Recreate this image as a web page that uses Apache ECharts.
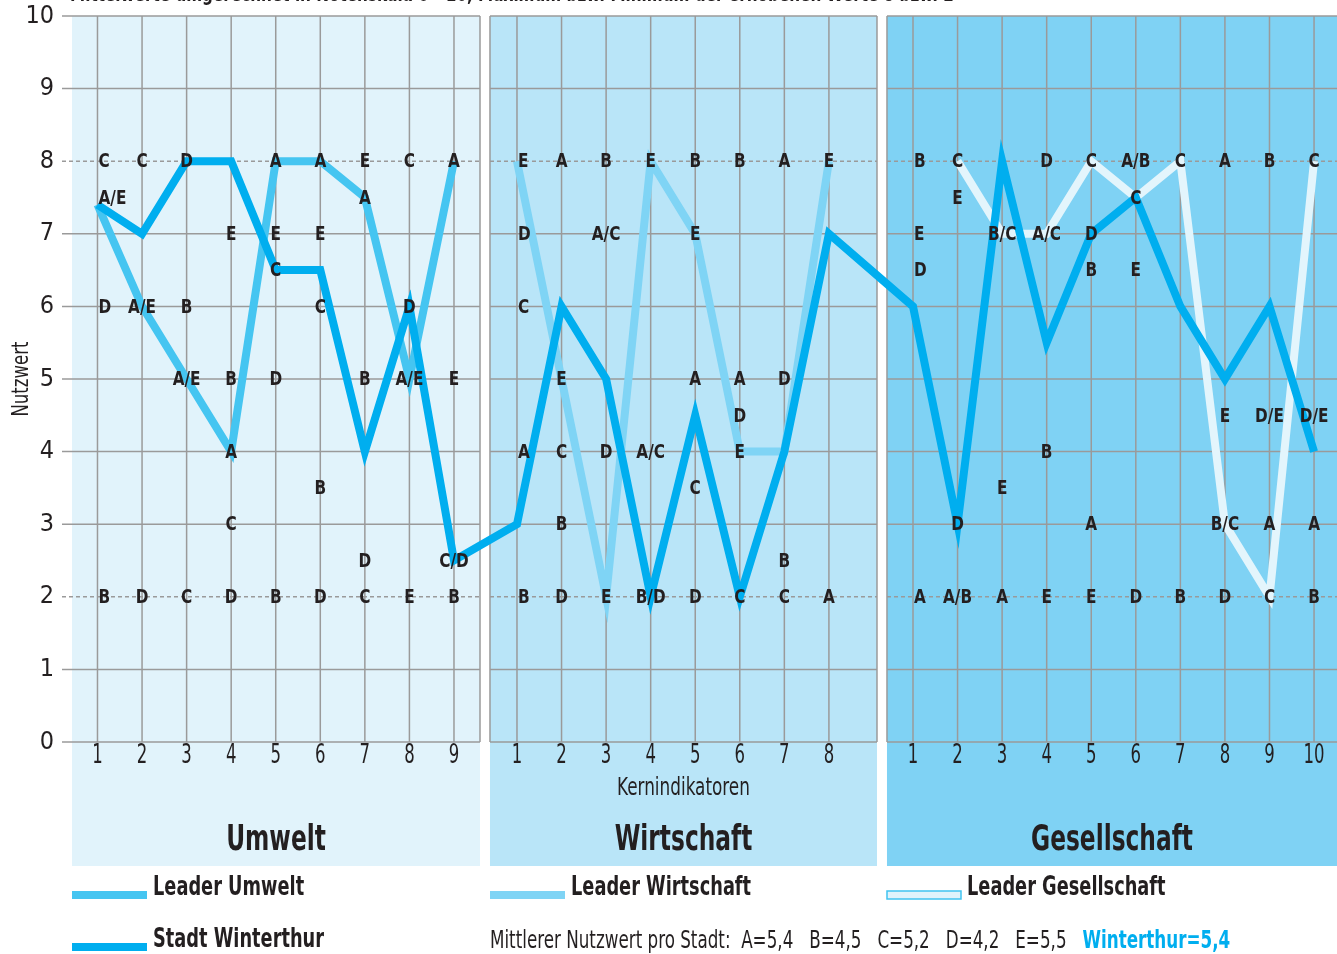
<!DOCTYPE html>
<html>
<head>
<meta charset="utf-8">
<script src="https://cdn.jsdelivr.net/npm/echarts@6/dist/echarts.min.js"></script>
<style>
html,body{margin:0;padding:0;background:#fff;}
#chart{width:1337px;height:954px;}
</style>
</head>
<body>
<div id="chart"></div>
<script>
// ---------------- DATA ----------------
const panelNames = ['Umwelt', 'Wirtschaft', 'Gesellschaft'];
const yTicks = [0, 1, 2, 3, 4, 5, 6, 7, 8, 9, 10];
const umweltIndicators = [1, 2, 3, 4, 5, 6, 7, 8, 9];
const wirtschaftIndicators = [1, 2, 3, 4, 5, 6, 7, 8];
const gesellschaftIndicators = [1, 2, 3, 4, 5, 6, 7, 8, 9, 10];

const umweltLeader = [7.4, 6, 5, 4, 8, 8, 7.5, 5, 8];
const umweltWinterthur = [7.4, 7, 8, 8, 6.5, 6.5, 4, 6, 2.5];
const wirtschaftLeader = [8, 5, 2, 8, 7, 4, 4, 8];
const wirtschaftWinterthur = [3, 6, 5, 2, 4.5, 2, 4, 7];
const gesellschaftLeader = [null, 8, 7, 7, 8, 7.5, 8, 3, 2, 8];
const gesellschaftWinterthur = [6, 3, 8, 5.5, 7, 7.5, 6, 5, 6, 4];

// city letters: [indicator, value, text]
const umweltLetters = [
  [1,8,'C'],[1,7.5,'A/E'],[1,6,'D'],[1,2,'B'],
  [2,8,'C'],[2,6,'A/E'],[2,2,'D'],
  [3,8,'D'],[3,6,'B'],[3,5,'A/E'],[3,2,'C'],
  [4,7,'E'],[4,5,'B'],[4,4,'A'],[4,3,'C'],[4,2,'D'],
  [5,8,'A'],[5,7,'E'],[5,6.5,'C'],[5,5,'D'],[5,2,'B'],
  [6,8,'A'],[6,7,'E'],[6,6,'C'],[6,3.5,'B'],[6,2,'D'],
  [7,8,'E'],[7,7.5,'A'],[7,5,'B'],[7,2.5,'D'],[7,2,'C'],
  [8,8,'C'],[8,6,'D'],[8,5,'A/E'],[8,2,'E'],
  [9,8,'A'],[9,5,'E'],[9,2.5,'C/D'],[9,2,'B']
];
const wirtschaftLetters = [
  [1,8,'E'],[1,7,'D'],[1,6,'C'],[1,4,'A'],[1,2,'B'],
  [2,8,'A'],[2,5,'E'],[2,4,'C'],[2,3,'B'],[2,2,'D'],
  [3,8,'B'],[3,7,'A/C'],[3,4,'D'],[3,2,'E'],
  [4,8,'E'],[4,4,'A/C'],[4,2,'B/D'],
  [5,8,'B'],[5,7,'E'],[5,5,'A'],[5,3.5,'C'],[5,2,'D'],
  [6,8,'B'],[6,5,'A'],[6,4.5,'D'],[6,4,'E'],[6,2,'C'],
  [7,8,'A'],[7,5,'D'],[7,2.5,'B'],[7,2,'C'],
  [8,8,'E'],[8,2,'A']
];
const gesellschaftLetters = [
  [1,8,'B'],[1,7,'E'],[1,6.5,'D'],[1,2,'A'],
  [2,8,'C'],[2,7.5,'E'],[2,3,'D'],[2,2,'A/B'],
  [3,7,'B/C'],[3,3.5,'E'],[3,2,'A'],
  [4,8,'D'],[4,7,'A/C'],[4,4,'B'],[4,2,'E'],
  [5,8,'C'],[5,7,'D'],[5,6.5,'B'],[5,3,'A'],[5,2,'E'],
  [6,8,'A/B'],[6,7.5,'C'],[6,6.5,'E'],[6,2,'D'],
  [7,8,'C'],[7,2,'B'],
  [8,8,'A'],[8,4.5,'E'],[8,3,'B/C'],[8,2,'D'],
  [9,8,'B'],[9,4.5,'D/E'],[9,3,'A'],[9,2,'C'],
  [10,8,'C'],[10,4.5,'D/E'],[10,3,'A'],[10,2,'B']
];

const cityMeans = [['A','5,4'],['B','4,5'],['C','5,2'],['D','4,2'],['E','5,5']];
const winterthurMean = '5,4';

const legendLabels = ['Leader Umwelt', 'Leader Wirtschaft', 'Leader Gesellschaft', 'Stadt Winterthur'];
const topNote = 'Mittelwerte umgerechnet in Notenskala 0 - 10, Maximum bzw. Minimum der erhobenen Werte 8 bzw. 2';
const xAxisTitle = 'Kernindikatoren';
const yAxisTitle = 'Nutzwert';

// ---------------- LAYOUT / STYLE ----------------
const FONT = "'DejaVu Sans Condensed', 'Liberation Sans Narrow', 'Open Sans', sans-serif";
const TXT = '#231f20';
const GRIDC = '#9a9a9a';
const NARROW = 0.76;
const panelOffset = [0, 9.414, 18.301];          // axis position of indicator 0 in each panel
const panelEdges = [[0.428, 9.584], [9.808, 18.493], [18.717, 28.816]];
const panelColors = ['#e1f3fb', '#b9e5f8', '#7fd2f4'];
const cLeaderU = '#45c5f1';
const cLeaderW = '#7fd4f5';
const cLeaderG = '#e3f5fc';
const cWinti = '#00aeef';
const indicatorSets = [umweltIndicators, wirtschaftIndicators, gesellschaftIndicators];

function toPts(panel, vals) {
  const out = [];
  vals.forEach((v, i) => { if (v !== null) out.push([panelOffset[panel] + indicatorSets[panel][i], v]); });
  return out;
}
const allLetters = [];
[umweltLetters, wirtschaftLetters, gesellschaftLetters].forEach((arr, p) => {
  arr.forEach(l => allLetters.push({ pos: panelOffset[p] + l[0], val: l[1], text: l[2], first: l[0] === 1 }));
});

function ntext(text, x, y, font, opts) {
  opts = opts || {};
  return {
    type: 'text', x: x, y: y, scaleX: opts.scale || NARROW,
    style: Object.assign({ text: text, x: 0, y: 0, font: font, fill: TXT, align: 'left', verticalAlign: 'middle' }, opts.style || {})
  };
}

const chart = echarts.init(document.getElementById('chart'));

const lineBase = { type: 'line', showSymbol: false, symbol: 'none', silent: true, animation: false };
const lineStyleBase = { width: 8, join: 'miter', miterLimit: 10, cap: 'butt' };

const option = {
  backgroundColor: '#ffffff',
  animation: false,
  grid: { left: 72, right: 0, top: 16, bottom: 212, containLabel: false, outerBoundsMode: 'none' },
  xAxis: {
    type: 'value', min: 0.428, max: 28.816,
    axisLine: { show: false }, axisTick: { show: false }, axisLabel: { show: false }, splitLine: { show: false }
  },
  yAxis: {
    type: 'value', min: 0, max: 10, interval: 1,
    axisLine: { show: false }, axisTick: { show: false }, splitLine: { show: false },
    axisLabel: { fontFamily: FONT, fontSize: 25, color: TXT, margin: 18, formatter: v => yTicks.includes(v) ? String(v) : '' }
  },
  series: [
    {
      type: 'custom', z: 1, silent: true, clip: false,
      data: panelNames.map((n, i) => [i]),
      renderItem: function (params, api) {
        const p = params.dataIndex;
        const [l, r] = panelEdges[p];
        const top = api.coord([l, 10]);
        const bot = api.coord([l, 0]);
        const xl = top[0], xr = api.coord([r, 0])[0];
        const y10 = top[1], y0 = bot[1];
        const children = [];
        children.push({ type: 'rect', shape: { x: xl, y: y10, width: xr - xl, height: (y0 - y10) + 124 }, style: { fill: panelColors[p] } });
        yTicks.forEach(t => {
          const y = api.coord([l, t])[1];
          const dashed = (t === 2 || t === 8);
          children.push({ type: 'line', shape: { x1: p === 0 ? xl - 10 : xl, y1: y, x2: xr, y2: y },
            style: { stroke: GRIDC, lineWidth: 1.5, lineDash: dashed ? [4, 3] : null } });
        });
        indicatorSets[p].forEach(k => {
          const x = api.coord([panelOffset[p] + k, 0])[0];
          children.push({ type: 'line', shape: { x1: x, y1: y10, x2: x, y2: y0 }, style: { stroke: GRIDC, lineWidth: 1.5 } });
          children.push(ntext(String(k), x, y0 + 14, '27px ' + FONT, { scale: 0.68, style: { align: 'center' } }));
        });
        if (p > 0) children.push({ type: 'line', shape: { x1: xl, y1: y10, x2: xl, y2: y0 }, style: { stroke: GRIDC, lineWidth: 1.5 } });
        if (p < 2) children.push({ type: 'line', shape: { x1: xr, y1: y10, x2: xr, y2: y0 }, style: { stroke: GRIDC, lineWidth: 1.5 } });
        const cx = (xl + xr) / 2;
        children.push(ntext(panelNames[p], cx, y0 + 99, 'bold 36px ' + FONT, { scale: 0.72, style: { align: 'center' } }));
        if (p === 1) children.push(ntext(xAxisTitle, cx, y0 + 46, '25px ' + FONT, { scale: 0.75, style: { align: 'center' } }));
        if (p === 0) {
          const yMid = api.coord([l, 5])[1];
          children.push({ type: 'text', x: xl - 50, y: yMid, rotation: Math.PI / 2, scaleX: 0.8,
            style: { text: yAxisTitle, x: 0, y: 0, font: '23px ' + FONT, fill: TXT, align: 'center', verticalAlign: 'middle' } });
        }
        return { type: 'group', children: children };
      }
    },
    Object.assign({}, lineBase, { name: 'Leader Umwelt', z: 3, data: toPts(0, umweltLeader), lineStyle: Object.assign({ color: cLeaderU }, lineStyleBase) }),
    Object.assign({}, lineBase, { name: 'Leader Wirtschaft', z: 3, data: toPts(1, wirtschaftLeader), lineStyle: Object.assign({ color: cLeaderW }, lineStyleBase) }),
    Object.assign({}, lineBase, { name: 'Leader Gesellschaft', z: 3, data: toPts(2, gesellschaftLeader), lineStyle: Object.assign({ color: cLeaderG }, lineStyleBase) }),
    Object.assign({}, lineBase, { name: 'Stadt Winterthur', z: 4,
      data: toPts(0, umweltWinterthur).concat(toPts(1, wirtschaftWinterthur), toPts(2, gesellschaftWinterthur)),
      lineStyle: Object.assign({ color: cWinti }, lineStyleBase) }),
    {
      type: 'custom', z: 6, silent: true, clip: false,
      data: allLetters.map(l => [l.pos, l.val]),
      renderItem: function (params, api) {
        const L = allLetters[params.dataIndex];
        const pt = api.coord([L.pos, L.val]);
        return ntext(L.text, L.first ? pt[0] + 1 : pt[0], pt[1] + 1, 'bold 20px ' + FONT,
          { scale: 0.85, style: { align: L.first ? 'left' : 'center' } });
      }
    }
  ],
  graphic: [
    { type: 'text', x: 70, y: -16, scaleX: 0.77, style: { text: topNote, x: 0, y: 0, font: 'bold 22px ' + FONT, fill: TXT } },
    // legend
    { type: 'rect', shape: { x: 72, y: 891, width: 75, height: 8 }, style: { fill: cLeaderU } },
    ntext(legendLabels[0], 153, 888, 'bold 26px ' + FONT),
    { type: 'rect', shape: { x: 490, y: 891, width: 75, height: 8 }, style: { fill: cLeaderW } },
    ntext(legendLabels[1], 571, 888, 'bold 26px ' + FONT),
    { type: 'rect', shape: { x: 887, y: 891, width: 74, height: 8 }, style: { fill: '#e0f3fb', stroke: '#40c4f1', lineWidth: 1.5 } },
    ntext(legendLabels[2], 967, 888, 'bold 26px ' + FONT),
    { type: 'rect', shape: { x: 72, y: 943, width: 75, height: 8 }, style: { fill: cWinti } },
    ntext(legendLabels[3], 153, 940, 'bold 26px ' + FONT),
    { type: 'text', x: 490, y: 941, scaleX: 0.745, style: {
        text: '{n|Mittlerer Nutzwert pro Stadt:  ' + cityMeans.map(c => c[0] + '=' + c[1]).join('   ') + '   }{w|Winterthur=' + winterthurMean + '}',
        x: 0, y: 0, verticalAlign: 'middle',
        rich: {
          n: { fontFamily: FONT, fontSize: 25, fill: TXT, color: TXT },
          w: { fontFamily: FONT, fontSize: 25, fontWeight: 'bold', fill: cWinti, color: cWinti }
        }
      } }
  ]
};
chart.setOption(option);
</script>
</body>
</html>
